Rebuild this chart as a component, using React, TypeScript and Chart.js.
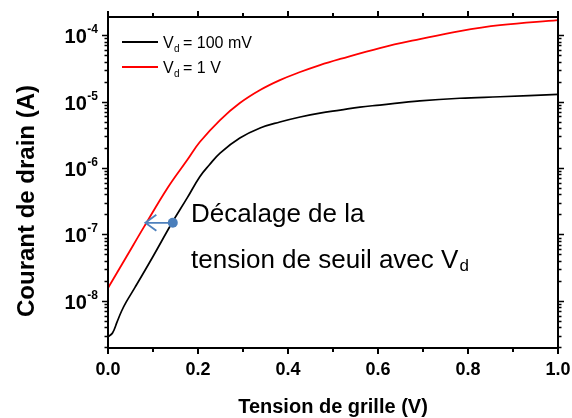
import React, { useEffect, useRef } from "react";
import { Chart, registerables } from "chart.js";

Chart.register(...registerables);

// ---- data ----
const blackGateV = [0, 0.01, 0.02, 0.03, 0.04, 0.06, 0.1, 0.142, 0.176, 0.204, 0.225, 0.249, 0.293, 0.338, 0.382, 0.427, 0.471, 0.516, 0.56, 0.604, 0.693, 0.782, 0.871, 1.0];
const blackDrainI = [2.9e-9, 3.3e-9, 4.8e-9, 7.0e-9, 9.5e-9, 1.6e-8, 4.67e-8, 1.49e-7, 3.55e-7, 7.4e-7, 1.11e-6, 1.68e-6, 2.82e-6, 4.0e-6, 4.92e-6, 5.85e-6, 6.71e-6, 7.45e-6, 8.26e-6, 8.85e-6, 1.02e-5, 1.12e-5, 1.18e-5, 1.28e-5];
const redGateV = [0, 0.04, 0.08, 0.133, 0.176, 0.204, 0.249, 0.293, 0.338, 0.382, 0.427, 0.471, 0.516, 0.604, 0.693, 0.782, 0.871, 1.0];
const redDrainI = [1.57e-8, 4.5e-8, 1.3e-7, 5.1e-7, 1.32e-6, 2.46e-6, 5.27e-6, 9.48e-6, 1.49e-5, 2.1e-5, 2.78e-5, 3.54e-5, 4.37e-5, 6.38e-5, 8.7e-5, 1.15e-4, 1.41e-4, 1.68e-4];
const xTickValues = [0, 0.1, 0.2, 0.3, 0.4, 0.5, 0.6, 0.7, 0.8, 0.9, 1.0];
const xTickLabels = ["0.0", "", "0.2", "", "0.4", "", "0.6", "", "0.8", "", "1.0"];
const yDecadeExponents = [-9, -8, -7, -6, -5, -4];
const yLabelExponents = ["-8", "-7", "-6", "-5", "-4"];
const seriesNames = ["100 mV", "1 V"];
const annotationDot = { x: 0.144, y: 1.5e-7 };
const annotationArrowHead = { x: 0.083, y: 1.5e-7 };

const FONT = '"Liberation Sans", Arial, sans-serif';

const framePlugin = {
  id: "frame",
  afterDatasetsDraw(chart: any) {
    const ctx = chart.ctx;
    const { left, right, top, bottom } = chart.chartArea;
    const xs = chart.scales.x;
    const ys = chart.scales.y;
    ctx.save();
    ctx.strokeStyle = "#000";
    ctx.fillStyle = "#000";
    // box
    ctx.lineWidth = 2;
    ctx.strokeRect(left, top, right - left, bottom - top);
    // x ticks
    xTickValues.forEach((v, i) => {
      const px = Math.round(xs.getPixelForValue(v));
      const len = i % 2 === 0 ? 6 : 4;
      ctx.beginPath();
      ctx.moveTo(px, bottom);
      ctx.lineTo(px, bottom + len);
      ctx.moveTo(px, top);
      ctx.lineTo(px, top - len);
      ctx.stroke();
      if (xTickLabels[i]) {
        ctx.font = `bold 18px ${FONT}`;
        ctx.textAlign = "center";
        ctx.textBaseline = "middle";
        ctx.fillText(xTickLabels[i], px, bottom + 22);
      }
    });
    // y ticks
    const ymin = ys.min, ymax = ys.max;
    ctx.lineWidth = 1.5;
    yDecadeExponents.forEach((e) => {
      for (let m = 1; m <= 9; m++) {
        const val = m * Math.pow(10, e);
        if (val < ymin || val > ymax) continue;
        const py = Math.round(ys.getPixelForValue(val)) + 0.5;
        const len = m === 1 ? 6 : 3.5;
        ctx.beginPath();
        ctx.moveTo(left, py);
        ctx.lineTo(left - len, py);
        ctx.moveTo(right, py);
        ctx.lineTo(right + len, py);
        ctx.stroke();
      }
    });
    // y labels
    yLabelExponents.forEach((ex) => {
      const py = ys.getPixelForValue(Math.pow(10, Number(ex)));
      ctx.textBaseline = "alphabetic";
      ctx.textAlign = "right";
      ctx.font = `bold 12px ${FONT}`;
      const supW = ctx.measureText(ex).width;
      const supRight = left - 10;
      ctx.fillText(ex, supRight, py - 2);
      ctx.font = `bold 20px ${FONT}`;
      ctx.fillText("10", supRight - supW - 0.5, py + 8);
    });
    // axis titles
    ctx.font = `bold 20px ${FONT}`;
    ctx.textAlign = "center";
    ctx.textBaseline = "middle";
    ctx.fillText("Tension de grille (V)", (left + right) / 2, 407);
    ctx.save();
    ctx.translate(27, 201);
    ctx.rotate(-Math.PI / 2);
    ctx.font = `bold 24px ${FONT}`;
    ctx.fillText("Courant de drain (A)", 0, 0);
    ctx.restore();

    // legend
    const legendColors = ["#000000", "#ff0000"];
    const legendY = [42, 67];
    seriesNames.forEach((name, i) => {
      const y = legendY[i];
      ctx.strokeStyle = legendColors[i];
      ctx.lineWidth = 2;
      ctx.beginPath();
      ctx.moveTo(122, y);
      ctx.lineTo(158, y);
      ctx.stroke();
      ctx.fillStyle = "#000";
      ctx.textAlign = "left";
      ctx.textBaseline = "alphabetic";
      ctx.font = `16px ${FONT}`;
      ctx.fillText("V", 163, y + 6);
      ctx.font = `10px ${FONT}`;
      ctx.fillText("d", 174, y + 10);
      ctx.font = `16px ${FONT}`;
      ctx.fillText("= " + name, 183, y + 6);
    });

    // annotation arrow
    const dx = xs.getPixelForValue(annotationDot.x);
    const dy = ys.getPixelForValue(annotationDot.y);
    const ax = xs.getPixelForValue(annotationArrowHead.x);
    const ay = ys.getPixelForValue(annotationArrowHead.y);
    ctx.strokeStyle = "#4f81bd";
    ctx.fillStyle = "#4a7ebb";
    ctx.lineWidth = 1.8;
    ctx.beginPath();
    ctx.moveTo(dx, dy);
    ctx.lineTo(ax, ay);
    ctx.moveTo(ax + 11, ay - 8);
    ctx.lineTo(ax, ay);
    ctx.lineTo(ax + 11, ay + 8);
    ctx.stroke();
    ctx.beginPath();
    ctx.arc(dx, dy, 5, 0, Math.PI * 2);
    ctx.fill();

    // annotation text
    ctx.fillStyle = "#000";
    ctx.textAlign = "left";
    ctx.textBaseline = "alphabetic";
    ctx.font = `26px ${FONT}`;
    ctx.fillText("Décalage de la", 191, 222);
    const line2 = "tension de seuil avec V";
    ctx.fillText(line2, 191, 268);
    const w2 = ctx.measureText(line2).width;
    ctx.font = `17px ${FONT}`;
    ctx.fillText("d", 191 + w2 + 1, 271);
    ctx.restore();
  },
};

export default function App() {
  const ref = useRef<HTMLCanvasElement | null>(null);
  useEffect(() => {
    if (!ref.current) return;
    const chart = new Chart(ref.current, {
      type: "line",
      data: {
        datasets: [
          {
            label: "Vd = " + seriesNames[0],
            data: blackGateV.map((x, i) => ({ x, y: blackDrainI[i] })),
            borderColor: "#000000",
            borderWidth: 1.7,
            pointRadius: 0,
            tension: 0.4,
            fill: false,
          },
          {
            label: "Vd = " + seriesNames[1],
            data: redGateV.map((x, i) => ({ x, y: redDrainI[i] })),
            borderColor: "#ff0000",
            borderWidth: 1.8,
            pointRadius: 0,
            tension: 0.4,
            fill: false,
          },
        ],
      },
      options: {
        animation: false,
        responsive: false,
        layout: { padding: { left: 108, top: 17, right: 14, bottom: 70 } },
        plugins: { legend: { display: false }, tooltip: { enabled: false } },
        scales: {
          x: { type: "linear", min: 0, max: 1, display: false },
          y: { type: "logarithmic", min: 1.96e-9, max: 1.87e-4, display: false },
        },
      },
      plugins: [framePlugin],
    });
    return () => chart.destroy();
  }, []);
  return (
    <div style={{ position: "fixed", left: 0, top: 0, width: 572, height: 418, background: "#fff" }}>
      <canvas ref={ref} width={572} height={418} style={{ width: 572, height: 418 }} />
    </div>
  );
}
